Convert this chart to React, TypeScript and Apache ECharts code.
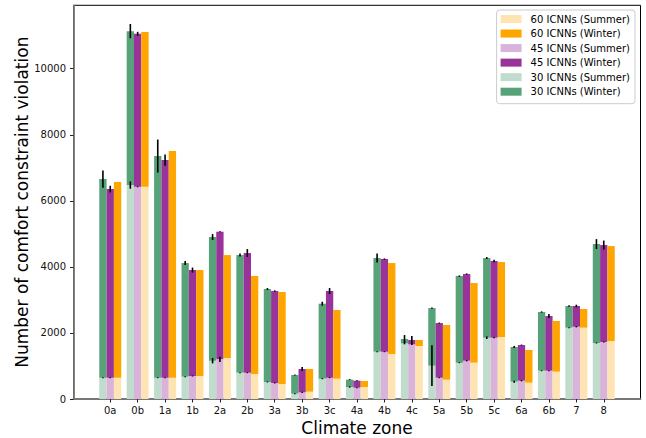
import React, { useEffect, useRef } from "react";
import * as echarts from "echarts";

const categories = ["0a", "0b", "1a", "1b", "2a", "2b", "3a", "3b", "3c", "4a", "4b", "4c", "5a", "5b", "5c", "6a", "6b", "7", "8"];

// Summer counts (bottom segment) and winter counts (stacked on top)
const summer30 = [645, 6477, 645, 676, 1160, 797, 515, 161, 615, 363, 1433, 1685, 1009, 1100, 1856, 525, 857, 2159, 1695];
const winter30 = [6014, 4661, 6710, 3440, 3743, 3561, 2814, 565, 2270, 222, 2835, 131, 1745, 2623, 2412, 1049, 1776, 656, 2996];
const summer45 = [645, 6426, 645, 696, 1200, 797, 484, 202, 645, 343, 1433, 1654, 645, 1160, 1856, 555, 857, 2189, 1725];
const winter45 = [5711, 4631, 6589, 3208, 3864, 3622, 2785, 706, 2624, 212, 2804, 132, 1655, 2623, 2321, 1079, 1655, 626, 2936];
const summer60 = [645, 6426, 645, 696, 1241, 757, 454, 222, 615, 363, 1362, 1604, 585, 1100, 1876, 494, 827, 2159, 1755];
const winter60 = [5923, 4682, 6861, 3208, 3117, 2966, 2785, 686, 2079, 182, 2754, 182, 1655, 2411, 2271, 989, 1534, 565, 2876];

// Error half-widths
const errSummer30 = [15, 110, 15, 15, 80, 15, 15, 15, 15, 20, 15, 30, 615, 15, 40, 30, 15, 15, 15];
const errTotal30 = [260, 215, 500, 60, 90, 45, 30, 15, 60, 15, 136, 120, 20, 20, 30, 30, 20, 20, 150];
const errSummer45 = [15, 15, 15, 15, 80, 15, 15, 20, 15, 15, 15, 20, 15, 20, 20, 20, 15, 20, 15];
const errTotal45 = [100, 60, 170, 75, 15, 120, 20, 60, 90, 15, 20, 120, 15, 20, 40, 15, 60, 40, 136];

const yTicks = [0, 2000, 4000, 6000, 8000, 10000];

const FONT = "DejaVu Sans";
const BAR_W = 0.267;

const groups = [
  { key: "30", off: -BAR_W, summer: summer30, winter: winter30, cS: "#c0dccd", cW: "#58a279", eS: errSummer30, eT: errTotal30 },
  { key: "45", off: 0, summer: summer45, winter: winter45, cS: "#d9b3d9", cW: "#993399", eS: errSummer45, eT: errTotal45 },
  { key: "60", off: BAR_W, summer: summer60, winter: winter60, cS: "#ffe4b3", cW: "#ffa500", eS: null as number[] | null, eT: null as number[] | null },
];

function rectSeries(name: string, color: string, off: number, data: number[][]) {
  return {
    type: "custom",
    name,
    itemStyle: { color },
    encode: { x: 0, y: [1, 2] },
    data,
    z: 2,
    renderItem: (params: any, api: any) => {
      const x = api.value(0);
      const y0 = api.value(1);
      const y1 = api.value(2);
      const p0 = api.coord([x + off - BAR_W / 2, y0]);
      const p1 = api.coord([x + off + BAR_W / 2, y1]);
      return {
        type: "rect",
        shape: { x: p0[0], y: p1[1], width: p1[0] - p0[0], height: p0[1] - p1[1] },
        style: { fill: color },
      };
    },
  };
}

export default function App() {
  const ref = useRef<HTMLDivElement>(null);
  useEffect(() => {
    if (!ref.current) return;
    const chart = echarts.init(ref.current, null, { renderer: "svg" });

    const series: any[] = [];
    for (const g of groups) {
      const sData = categories.map((_, i) => [i, 0, g.summer[i]]);
      const wData = categories.map((_, i) => [i, g.summer[i], g.summer[i] + g.winter[i]]);
      series.push(rectSeries(`${g.key} ICNNs (Summer)`, g.cS, g.off, sData));
      series.push(rectSeries(`${g.key} ICNNs (Winter)`, g.cW, g.off, wData));
    }
    const errData: number[][] = [];
    for (const g of groups) {
      if (!g.eS || !g.eT) continue;
      categories.forEach((_, i) => {
        const s = g.summer[i];
        const t = g.summer[i] + g.winter[i];
        errData.push([i + g.off, s - g.eS![i], s + g.eS![i]]);
        errData.push([i + g.off, t - g.eT![i], t + g.eT![i]]);
      });
    }
    series.push({
      type: "custom",
      name: "err",
      z: 5,
      encode: { x: 0, y: [1, 2] },
      data: errData,
      renderItem: (params: any, api: any) => {
        const p0 = api.coord([api.value(0), api.value(1)]);
        const p1 = api.coord([api.value(0), api.value(2)]);
        return {
          type: "line",
          shape: { x1: p0[0], y1: p0[1], x2: p1[0], y2: p1[1] },
          style: { stroke: "#000", lineWidth: 1.6 },
        };
      },
    });

    chart.setOption({
      animation: false,
      textStyle: { fontFamily: FONT },
      grid: {
        left: 73.5,
        right: 5.5,
        top: 5.3,
        bottom: 39,
        show: true,
        borderColor: "#000",
        borderWidth: 1,
        outerBoundsMode: "none",
      },
      legend: {
        orient: "vertical",
        right: 11,
        top: 10,
        icon: "rect",
        itemWidth: 21,
        itemHeight: 8,
        itemGap: 4.54,
        padding: [4, 5, 7, 4],
        borderColor: "#cccccc",
        borderWidth: 1,
        borderRadius: 3,
        backgroundColor: "rgba(255,255,255,0.8)",
        data: [
          "60 ICNNs (Summer)",
          "60 ICNNs (Winter)",
          "45 ICNNs (Summer)",
          "45 ICNNs (Winter)",
          "30 ICNNs (Summer)",
          "30 ICNNs (Winter)",
        ],
        textStyle: { fontFamily: FONT, fontSize: 10, color: "#000", lineHeight: 10, padding: [0, 0, 0, 4] },
      },
      xAxis: {
        type: "value",
        min: -1.34,
        max: 19.34,
        name: "Climate zone",
        nameLocation: "middle",
        nameGap: 20,
        nameMoveOverlap: false,
        nameTextStyle: { fontFamily: FONT, fontSize: 17, color: "#000" },
        splitLine: { show: false },
        axisLine: { show: true, onZero: false, lineStyle: { color: "#777", width: 1.8 } },
        axisTick: {
          show: true,
          length: 3.5,
          customValues: categories.map((_, i) => i),
          lineStyle: { color: "#222", width: 1 },
        },
        axisLabel: {
          customValues: categories.map((_, i) => i),
          formatter: (v: number) => categories[Math.round(v)] ?? "",
          fontFamily: FONT,
          fontSize: 10,
          color: "#111",
          margin: 6.5,
        },
      },
      yAxis: {
        type: "value",
        min: 0,
        max: 11920,
        name: "Number of comfort constraint violation",
        nameLocation: "middle",
        nameGap: 43,
        nameMoveOverlap: false,
        nameTextStyle: { fontFamily: FONT, fontSize: 17, color: "#000" },
        splitLine: { show: false },
        axisLine: { show: true, onZero: false, lineStyle: { color: "#777", width: 1.8 } },
        axisTick: { show: true, length: 3.5, customValues: yTicks, lineStyle: { color: "#222", width: 1 } },
        axisLabel: {
          customValues: yTicks,
          formatter: (v: number) => String(v),
          fontFamily: FONT,
          fontSize: 10,
          color: "#111",
          margin: 7.5,
        },
      },
      series,
    });
    return () => chart.dispose();
  }, []);
  return <div ref={ref} style={{ position: "fixed", left: 0, top: 0, width: 646, height: 438, background: "#fff" }} />;
}
